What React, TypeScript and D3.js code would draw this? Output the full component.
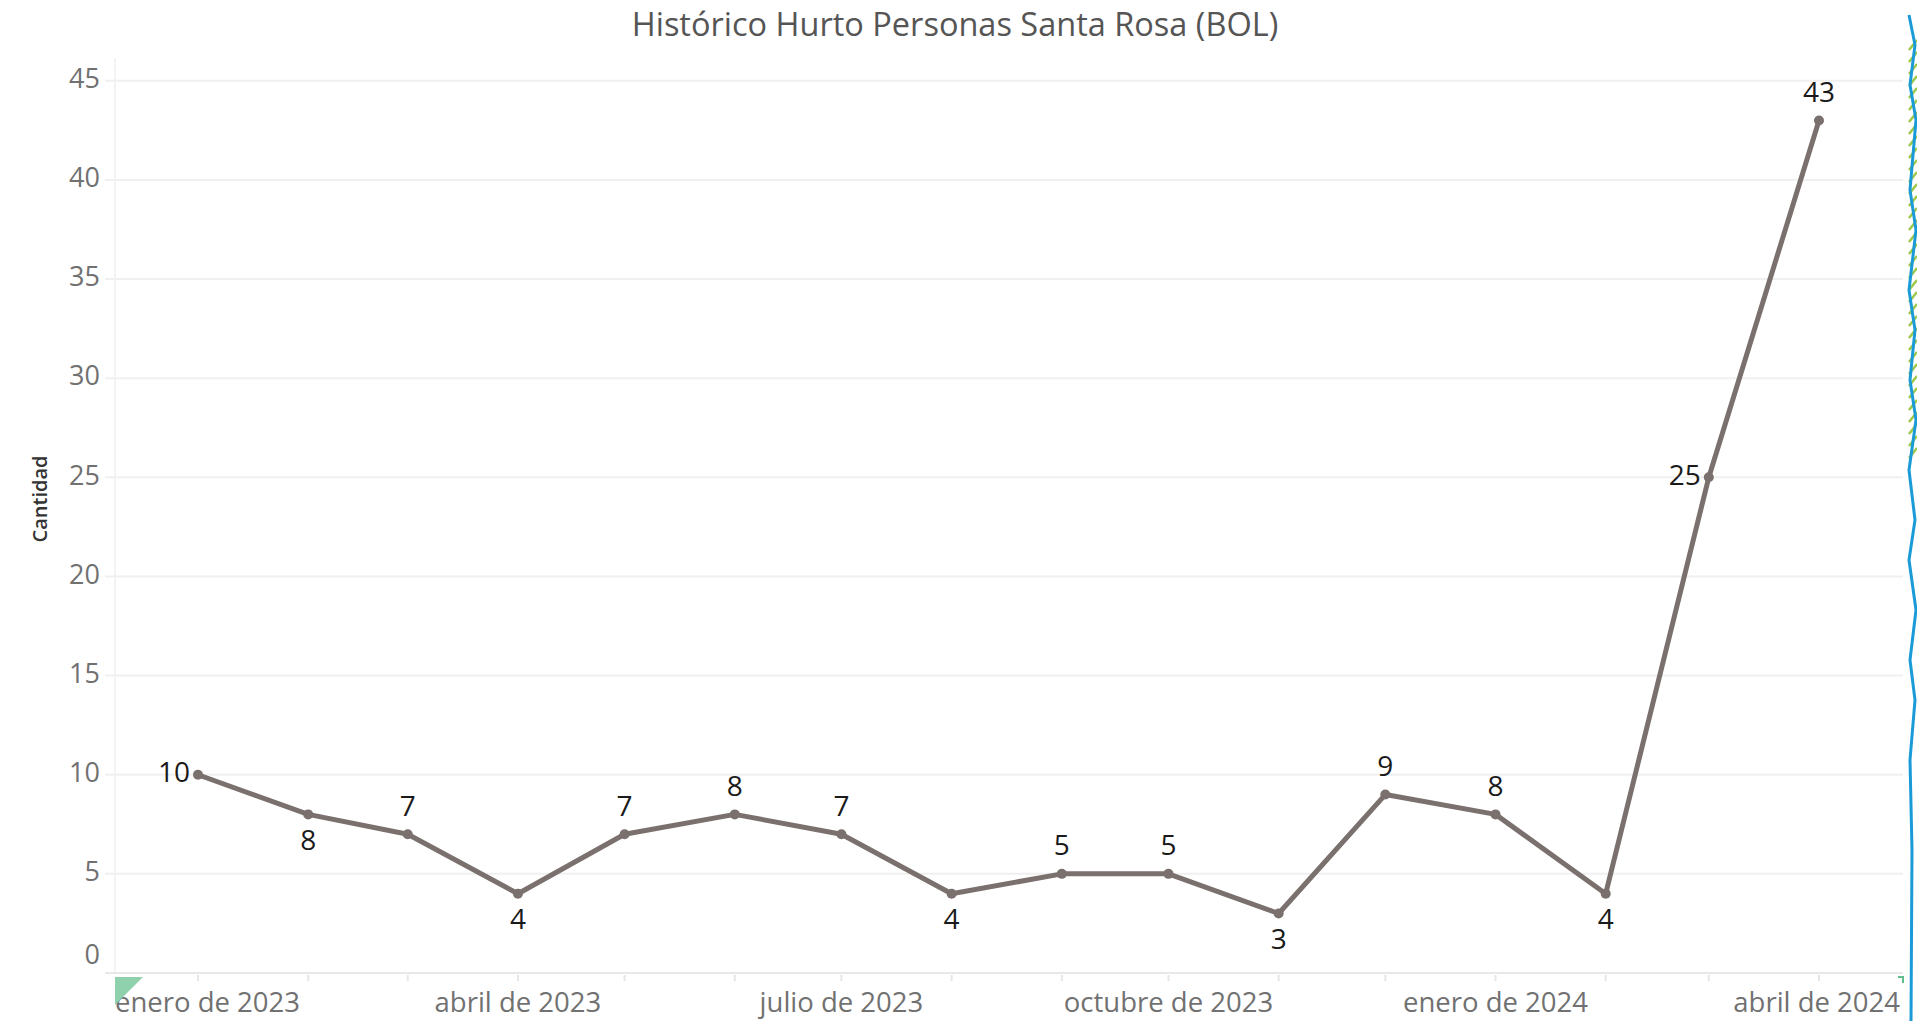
import React from "react";
import * as d3 from "d3";

// Datos
const months = [
  "2023-01", "2023-02", "2023-03", "2023-04", "2023-05", "2023-06", "2023-07", "2023-08",
  "2023-09", "2023-10", "2023-11", "2023-12", "2024-01", "2024-02", "2024-03", "2024-04",
];
const values = [10, 8, 7, 4, 7, 8, 7, 4, 5, 5, 3, 9, 8, 4, 25, 43];
// dónde va cada etiqueta de valor
const labelPos = [
  "left", "below", "above", "below", "above", "above", "above", "below",
  "above", "above", "below", "above", "above", "below", "left", "above",
];
const yTicks = [0, 5, 10, 15, 20, 25, 30, 35, 40, 45];
const xTickMonths = ["2023-01", "2023-04", "2023-07", "2023-10", "2024-01", "2024-04"];
const xTickLabels = [
  "enero de 2023", "abril de 2023", "julio de 2023",
  "octubre de 2023", "enero de 2024", "abril de 2024",
];

const W = 1917;
const H = 1021;
const plot = { left: 115, right: 1903, top: 58, bottom: 973 };

const parse = (s: string) => {
  const [y, m] = s.split("-").map(Number);
  return new Date(y, m - 1, 1);
};

const gray = "#717171";
const lineColor = "#7a706d";
const font = "'Open Sans', 'Noto Sans', sans-serif";

export default function App() {
  const dates = months.map(parse);

  const x = d3
    .scaleTime()
    .domain([parse("2023-01"), parse("2024-04")])
    .range([198, 1819]);

  const y = d3.scaleLinear().domain([0, 45]).range([973, 80.8]);

  const line = d3
    .line<number>()
    .x((_, i) => x(dates[i]))
    .y((d) => y(d));

  const monthTicks = d3.timeMonth.range(parse("2023-01"), parse("2024-05"));

  return (
    <svg
      width={W}
      height={H}
      style={{ position: "absolute", left: 0, top: 0, background: "#fff" }}
      fontFamily={font}
    >
      {/* título */}
      <text x={955} y={27} textAnchor="middle" fontSize={32.5} fill="#555" dominantBaseline="middle">
        Histórico Hurto Personas Santa Rosa (BOL)
      </text>

      {/* rejilla */}
      <line x1={plot.left} x2={plot.left} y1={plot.top} y2={plot.bottom} stroke="#f3f3f3" strokeWidth={2} />
      {yTicks.map((t) => (
        <line
          key={t}
          x1={plot.left - 10}
          x2={plot.right}
          y1={y(t)}
          y2={y(t)}
          stroke={t === 0 ? "#e8e8e8" : "#f0f0f0"}
          strokeWidth={2}
        />
      ))}

      {/* eje Y */}
      {yTicks.map((t) => (
        <text
          key={t}
          x={100}
          y={t === 0 ? y(t) - 16 : y(t)}
          textAnchor="end"
          dominantBaseline="middle"
          fontSize={27}
          fill={gray}
        >
          {t}
        </text>
      ))}
      <text
        transform="translate(42,499) rotate(-90)"
        textAnchor="middle"
        dominantBaseline="middle"
        fontSize={20}
        fontWeight={600}
        fill="#333"
      >
        Cantidad
      </text>

      {/* marcas mensuales del eje X */}
      {monthTicks.map((d, i) => (
        <line key={i} x1={x(d)} x2={x(d)} y1={plot.bottom + 2} y2={plot.bottom + 8} stroke="#e6e6e6" strokeWidth={2} />
      ))}
      {xTickMonths.map((m, i) => {
        const first = i === 0;
        const last = i === xTickMonths.length - 1;
        return (
          <text
            key={m}
            x={first ? plot.left : last ? plot.right - 3 : x(parse(m))}
            y={1005}
            textAnchor={first ? "start" : last ? "end" : "middle"}
            dominantBaseline="middle"
            fontSize={27.5}
            fill={gray}
          >
            {xTickLabels[i]}
          </text>
        );
      })}

      {/* línea */}
      <path d={line(values) ?? ""} fill="none" stroke={lineColor} strokeWidth={5} strokeLinejoin="round" />
      {values.map((v, i) => (
        <circle key={i} cx={x(dates[i])} cy={y(v)} r={5} fill={lineColor} />
      ))}

      {/* etiquetas de valor */}
      {values.map((v, i) => {
        const cx = x(dates[i]);
        const cy = y(v);
        const p = labelPos[i];
        const tx = p === "left" ? cx - 8 : cx;
        const ty = p === "above" ? cy - 26 : p === "below" ? cy + 28 : cy;
        return (
          <text
            key={i}
            x={tx}
            y={ty}
            textAnchor={p === "left" ? "end" : "middle"}
            dominantBaseline="middle"
            fontSize={28}
            fill="#1a1a1a"
          >
            {v}
          </text>
        );
      })}

      {/* esquinas verdes */}
      <path d={`M${plot.left},${plot.bottom + 4} L${plot.left + 28},${plot.bottom + 4} L${plot.left},${plot.bottom + 32} Z`} fill="#8fd1ad" />
      <path d={`M${plot.right - 5},${plot.bottom + 4} L${plot.right},${plot.bottom + 4} L${plot.right},${plot.bottom + 10}`} fill="none" stroke="#5cbf8c" strokeWidth={2} />

      {/* borde derecho decorativo */}
      {d3.range(40, 450, 12).map((yy) => (
        <line key={yy} x1={1909} x2={1917} y1={yy + 10} y2={yy} stroke="#9cc94a" strokeWidth={2.5} />
      ))}
      <path
        d="M1909,15 L1915,45 L1910,85 L1916,120 L1910,190 L1916,230 L1909,290 L1915,330 L1910,380 L1916,420 L1909,470 L1915,520 L1909,560 L1916,610 L1910,660 L1915,700 L1910,760 L1912,850 L1911,1021"
        fill="none"
        stroke="#1a9bd7"
        strokeWidth={3}
      />
    </svg>
  );
}
